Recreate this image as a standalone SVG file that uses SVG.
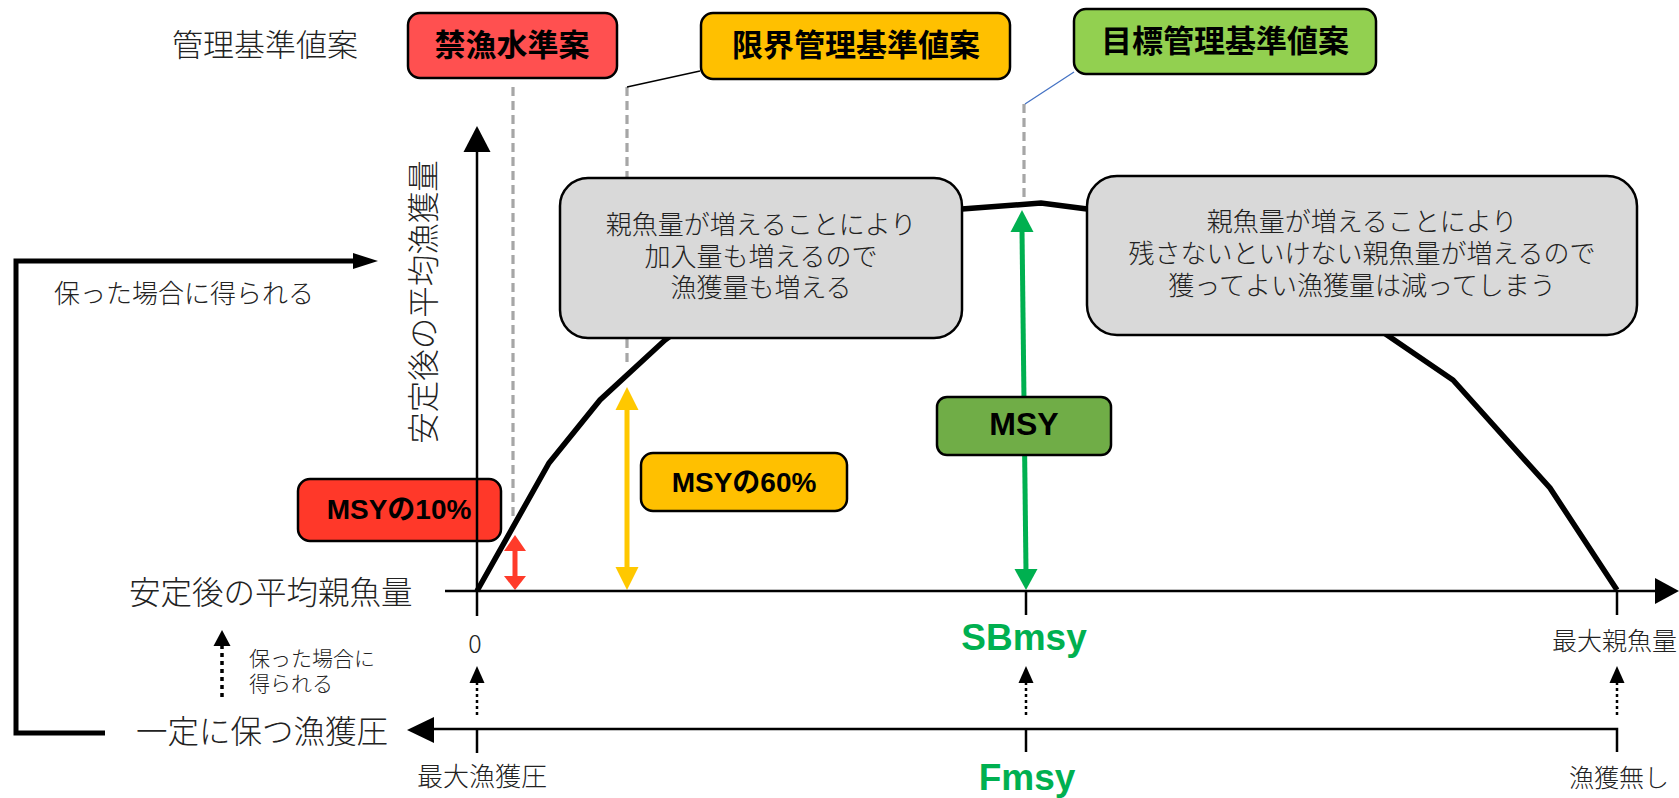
<svg xmlns="http://www.w3.org/2000/svg" width="1679" height="798" viewBox="0 0 1679 798">
<style>
.jp{font-family:"Noto Sans CJK JP","Noto Sans",sans-serif;fill:#222;font-weight:300}
.mid{text-anchor:middle}
.tb{font-family:"Noto Sans CJK JP",sans-serif;font-weight:700;font-size:31px;fill:#000;text-anchor:middle}
.lb{font-family:"Liberation Sans","Noto Sans CJK JP",sans-serif;font-weight:700;fill:#000;text-anchor:middle}
.gr{font-family:"Liberation Sans",sans-serif;font-weight:700;fill:#00B050;text-anchor:middle;font-size:37px}
.box{stroke:#000;stroke-width:2.5}
.gbox{fill:#D9D9D9;stroke:#000;stroke-width:2.5}
.dash{stroke:#A6A6A6;stroke-width:3.2;stroke-dasharray:9 5;fill:none}
.axis{stroke:#000;stroke-width:2.5;fill:none}
.dot{stroke:#000;stroke-width:2.5;stroke-dasharray:3 3;fill:none}
.head{fill:#000;stroke:none}
</style>

<g id="guides">
<line class="dash" x1="513" y1="87" x2="513" y2="521"/>
<line class="dash" x1="627" y1="87" x2="627" y2="365"/>
<line class="dash" x1="1024" y1="104" x2="1024" y2="205"/>
</g>

<g id="curve">
<polyline points="477,591 549,463 600,400 665,340 760,270 962,209 1041,203 1087,209 1300,275 1387,335 1453,380 1550,488 1617,590" fill="none" stroke="#000" stroke-width="5.5" stroke-linejoin="miter"/>
</g>

<g id="note-left">
<rect class="gbox" x="560" y="178" width="402" height="160" rx="28"/>
<text class="jp mid" x="761" y="234" font-size="26">親魚量が増えることにより</text>
<text class="jp mid" x="761" y="266" font-size="26">加入量も増えるので</text>
<text class="jp mid" x="761" y="297" font-size="26">漁獲量も増える</text>
</g>

<g id="note-right">
<rect class="gbox" x="1087" y="176" width="550" height="159" rx="30"/>
<text class="jp mid" x="1362" y="231" font-size="26">親魚量が増えることにより</text>
<text class="jp mid" x="1362" y="263" font-size="26">残さないといけない親魚量が増えるので</text>
<text class="jp mid" x="1362" y="295" font-size="26">獲ってよい漁獲量は減ってしまう</text>
</g>

<g id="connectors">
<line x1="627" y1="87" x2="700" y2="71" stroke="#000" stroke-width="1.3"/>
<line x1="1025" y1="104" x2="1074" y2="72" stroke="#4472C4" stroke-width="1.3"/>
<line x1="515" y1="549" x2="515" y2="578" stroke="#FF3B2A" stroke-width="5"/>
<polygon points="515,535 526,551 504,551" fill="#FF3B2A"/>
<polygon points="515,590 526,576 504,576" fill="#FF3B2A"/>
<line x1="627" y1="408" x2="627" y2="569" stroke="#FFC800" stroke-width="5"/>
<polygon points="627,387 638.5,410 615.5,410" fill="#FFC800"/>
<polygon points="627,590 638.5,567 615.5,567" fill="#FFC800"/>
<line x1="1022" y1="230" x2="1026" y2="571" stroke="#00B050" stroke-width="5"/>
<polygon points="1022,210 1033.5,232 1010.5,232" fill="#00B050"/>
<polygon points="1026,590 1037.5,569 1014.5,569" fill="#00B050"/>
<path d="M105,733 H16 V261 H355" fill="none" stroke="#000" stroke-width="5"/>
<polygon class="head" points="378,261 353,253 353,269"/>
<line class="dot" x1="477" y1="682" x2="477" y2="718"/>
<polygon class="head" points="477,666 484.5,683 469.5,683"/>
<line class="dot" x1="1026" y1="682" x2="1026" y2="718"/>
<polygon class="head" points="1026,666 1033.5,683 1018.5,683"/>
<line class="dot" x1="1617" y1="682" x2="1617" y2="718"/>
<polygon class="head" points="1617,666 1624.5,683 1609.5,683"/>
<line x1="222" y1="645" x2="222" y2="698" stroke="#000" stroke-width="3.5" stroke-dasharray="4 4"/>
<polygon class="head" points="222,630 230.5,646 213.5,646"/>
</g>

<g id="msy10">
<rect class="box" x="298" y="479" width="203" height="62" rx="12" fill="#FF3829"/>
<text class="lb" x="399" y="519" font-size="28">MSYの10%</text>
</g>
<g id="msy60">
<rect class="box" x="641" y="453" width="206" height="58" rx="12" fill="#FFC000"/>
<text class="lb" x="744" y="492" font-size="28">MSYの60%</text>
</g>
<g id="msy">
<rect class="box" x="937" y="397" width="174" height="58" rx="10" fill="#70AD47"/>
<text class="lb" x="1024" y="435" font-size="32">MSY</text>
</g>

<g id="axes">
<line class="axis" x1="477" y1="150" x2="477" y2="616"/>
<polygon class="head" points="477,126 490.5,152 463.5,152"/>
<line class="axis" x1="445" y1="591" x2="1657" y2="591"/>
<polygon class="head" points="1679,591 1655,578 1655,604"/>
<line class="axis" x1="1026" y1="591" x2="1026" y2="615"/>
<line class="axis" x1="1617" y1="591" x2="1617" y2="615"/>
<path class="axis" d="M432,729 H1617 V752"/>
<polygon class="head" points="407,730 434,717 434,743"/>
<line class="axis" x1="477" y1="729" x2="477" y2="753"/>
<line class="axis" x1="1026" y1="729" x2="1026" y2="752"/>
</g>

<g id="ref-boxes">
<g id="kinryo">
<rect class="box" x="408" y="13" width="209" height="65" rx="12" fill="#FF5050"/>
<text class="tb" x="512" y="56">禁漁水準案</text>
</g>
<g id="genkai">
<rect class="box" x="701" y="13" width="309" height="66" rx="12" fill="#FFC000"/>
<text class="tb" x="856" y="56">限界管理基準値案</text>
</g>
<g id="mokuhyo">
<rect class="box" x="1074" y="9" width="302" height="65" rx="12" fill="#92D050"/>
<text class="tb" x="1225" y="52">目標管理基準値案</text>
</g>
</g>

<g id="labels">
<text class="jp" x="172" y="56" font-size="31">管理基準値案</text>
<text class="jp" x="54" y="303" font-size="26">保った場合に得られる</text>
<text class="jp mid" transform="translate(435,302) rotate(-90)" font-size="31.5">安定後の平均漁獲量</text>
<text class="jp" x="129" y="604" font-size="31.5">安定後の平均親魚量</text>
<text class="jp" x="136" y="743" font-size="31.5">一定に保つ漁獲圧</text>
<text class="jp mid" x="475" y="653" font-size="25">0</text>
<text class="jp" x="249" y="666" font-size="21">保った場合に</text>
<text class="jp" x="249" y="691" font-size="21">得られる</text>
<text class="jp" x="417" y="786" font-size="26">最大漁獲圧</text>
<text class="jp" x="1552" y="650" font-size="25">最大親魚量</text>
<text class="jp" x="1569" y="787" font-size="25">漁獲無し</text>
<text class="gr" x="1024" y="650">SBmsy</text>
<text class="gr" x="1027" y="790">Fmsy</text>
</g>
</svg>
